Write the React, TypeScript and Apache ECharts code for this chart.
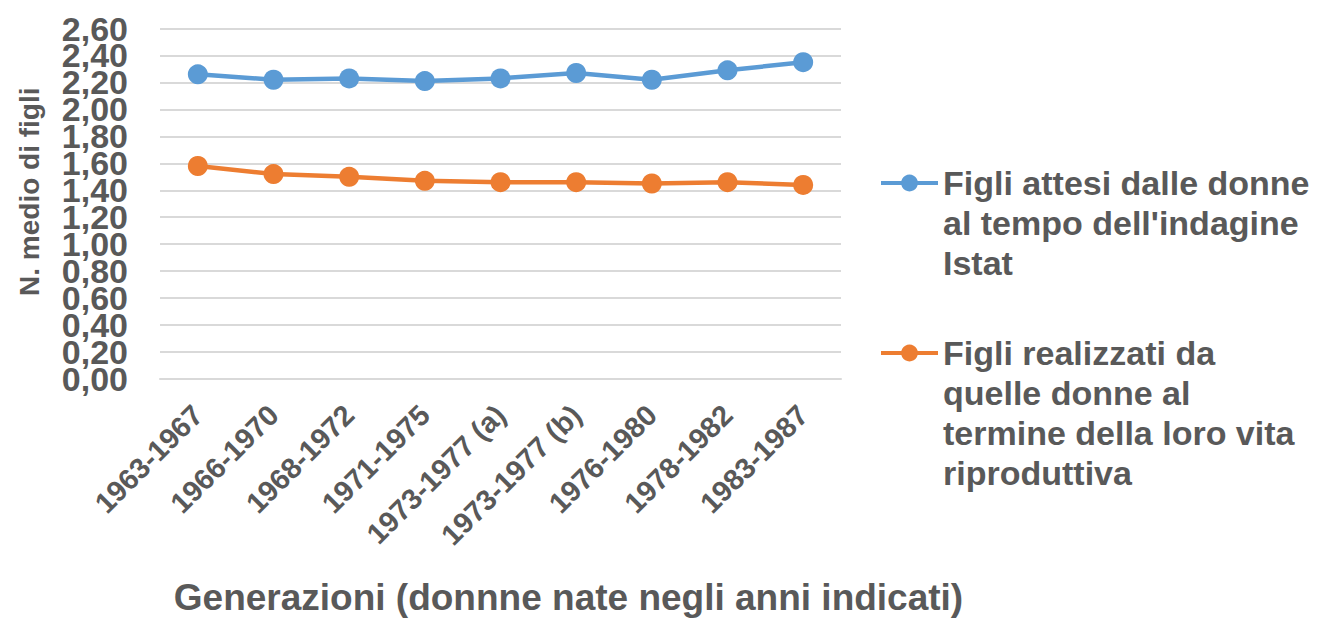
import React, { useEffect, useRef } from "react";
import * as echarts from "echarts";

// Generations of women (birth cohorts)
const categories = [
  "1963-1967",
  "1966-1970",
  "1968-1972",
  "1971-1975",
  "1973-1977 (a)",
  "1973-1977 (b)",
  "1976-1980",
  "1978-1982",
  "1983-1987",
];

// Average number of children expected at the time of the Istat survey
const figliAttesi = [2.26, 2.22, 2.23, 2.21, 2.23, 2.27, 2.22, 2.29, 2.35];

// Average number of children actually had by the end of reproductive life
const figliRealizzati = [1.58, 1.52, 1.5, 1.47, 1.46, 1.46, 1.45, 1.46, 1.44];

const nameAttesi = "Figli attesi dalle donne\nal tempo dell'indagine\nIstat";
const nameRealizzati =
  "Figli realizzati da\nquelle donne al\ntermine della loro vita\nriproduttiva";

const Y_MIN = 0;
const Y_MAX = 2.6;
const Y_STEP = 0.2;

const TEXT = "#595959";
const GRID = "#D9D9D9";
const BLUE = "#5B9BD5";
const ORANGE = "#ED7D31";
const FONT = "'Liberation Sans', Arial, sans-serif";
const LEGEND_LH = 40;

const fmt = (v: number) => v.toFixed(2).replace(".", ",");

export default function App() {
  const ref = useRef<HTMLDivElement>(null);

  useEffect(() => {
    if (!ref.current) return;
    const chart = echarts.init(ref.current, undefined, { renderer: "svg" });

    // Legend text is centred on its icon, so blank lines are put above the
    // wrapped name to bring the icon level with the first line.
    const legendItem = (name: string, iconY: number) => {
      const lines = name.split("\n").length;
      const pad = "\n".repeat(lines - 1);
      const blockH = (2 * lines - 1) * LEGEND_LH;
      return {
        orient: "vertical",
        left: 879,
        top: iconY - blockH / 2,
        padding: 0,
        itemWidth: 57,
        itemHeight: 21,
        selectedMode: false,
        data: [name],
        formatter: (n: string) => pad + n,
        lineStyle: { width: 4 },
        textStyle: {
          color: TEXT,
          fontFamily: FONT,
          fontWeight: "bold",
          fontSize: 34,
          lineHeight: LEGEND_LH,
        },
      };
    };

    // The tall tick labels touch each other; they are split over two
    // coincident value axes (even / odd ticks) so none of them gets dropped.
    const labelStyle = {
      margin: 32,
      showMinLabel: true,
      showMaxLabel: true,
      color: TEXT,
      fontFamily: FONT,
      fontWeight: "bold",
      fontSize: 34,
    };
    const valueAxis = (parity: number, withGrid: boolean) => ({
      type: "value",
      position: "left",
      offset: 0,
      min: Y_MIN,
      max: Y_MAX,
      interval: Y_STEP,
      axisLine: { show: false },
      axisTick: { show: false },
      splitLine: { show: withGrid, lineStyle: { color: GRID, width: 2 } },
      axisLabel: {
        ...labelStyle,
        formatter: (v: number, i: number) => (i % 2 === parity ? fmt(v) : ""),
      },
    });

    chart.setOption({
      animation: false,
      textStyle: { fontFamily: FONT },
      grid: { left: 160, right: 478, top: 28.5, bottom: 238.7 },
      legend: [legendItem(nameAttesi, 183), legendItem(nameRealizzati, 353)],
      xAxis: {
        type: "category",
        data: categories,
        boundaryGap: true,
        axisLine: { show: true, lineStyle: { color: GRID, width: 2 } },
        axisTick: { show: false },
        axisLabel: {
          interval: 0,
          rotate: 45,
          margin: 31,
          color: TEXT,
          fontFamily: FONT,
          fontWeight: "bold",
          fontSize: 29,
        },
        name: "Generazioni (donnne nate negli anni indicati)",
        nameLocation: "middle",
        nameGap: 200,
        nameTextStyle: {
          color: TEXT,
          fontFamily: FONT,
          fontWeight: "bold",
          fontSize: 37,
          padding: [0, 0, 0, 136],
        },
      },
      yAxis: [
        {
          ...valueAxis(0, true),
          name: "N. medio di figli",
          nameLocation: "middle",
          nameGap: 117,
          nameTextStyle: {
            color: TEXT,
            fontFamily: FONT,
            fontWeight: "bold",
            fontSize: 28,
            padding: [0, 0, 0, 24],
          },
        },
        valueAxis(1, false),
      ],
      series: [
        {
          name: nameAttesi,
          type: "line",
          yAxisIndex: 0,
          data: figliAttesi,
          symbol: "circle",
          symbolSize: 20,
          color: BLUE,
          lineStyle: { color: BLUE, width: 4.5 },
          itemStyle: { color: BLUE },
        },
        {
          name: nameRealizzati,
          type: "line",
          yAxisIndex: 0,
          data: figliRealizzati,
          symbol: "circle",
          symbolSize: 20,
          color: ORANGE,
          lineStyle: { color: ORANGE, width: 4.5 },
          itemStyle: { color: ORANGE },
        },
      ],
    });

    return () => chart.dispose();
  }, []);

  return (
    <div
      ref={ref}
      style={{ position: "absolute", left: 0, top: 0, width: 1319, height: 621 }}
    />
  );
}
